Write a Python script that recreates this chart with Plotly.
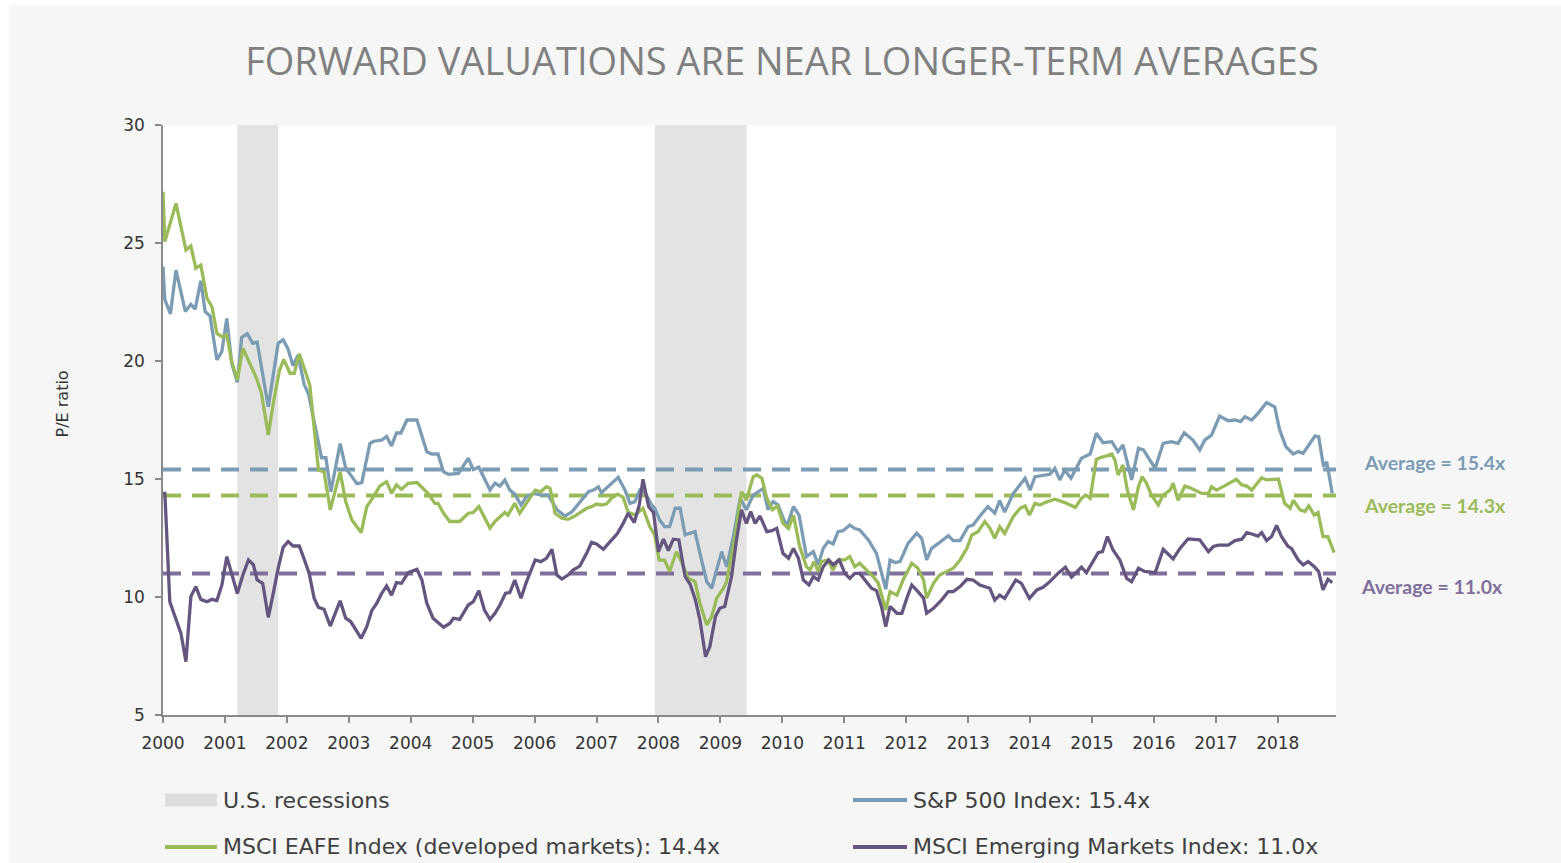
import plotly.graph_objects as go

# ---- data: forward P/E ratios (decimal year, value) ----
sp_years = [2000.00, 2000.03, 2000.12, 2000.21, 2000.36, 2000.45, 2000.52, 2000.61, 2000.68, 2000.76,
            2000.87, 2000.95, 2001.03, 2001.11, 2001.20, 2001.27, 2001.36, 2001.45, 2001.52, 2001.70,
            2001.86, 2001.94, 2002.02, 2002.10, 2002.18, 2002.28, 2002.35, 2002.56, 2002.63, 2002.71,
            2002.86, 2002.95, 2003.05, 2003.13, 2003.21, 2003.34, 2003.40, 2003.53, 2003.61, 2003.69,
            2003.77, 2003.84, 2003.94, 2004.10, 2004.26, 2004.34, 2004.44, 2004.53, 2004.61, 2004.77,
            2004.93, 2005.01, 2005.10, 2005.28, 2005.36, 2005.44, 2005.52, 2005.60, 2005.68, 2005.78,
            2005.87, 2005.98, 2006.11, 2006.22, 2006.36, 2006.49, 2006.60, 2006.76, 2006.87, 2006.95,
            2007.03, 2007.08, 2007.24, 2007.35, 2007.46, 2007.54, 2007.62, 2007.70, 2007.79, 2007.89,
            2007.94, 2008.02, 2008.10, 2008.18, 2008.27, 2008.35, 2008.43, 2008.51, 2008.59, 2008.67,
            2008.78, 2008.86, 2009.02, 2009.10, 2009.21, 2009.32, 2009.42, 2009.53, 2009.64, 2009.69,
            2009.77, 2009.85, 2009.93, 2010.07, 2010.18, 2010.27, 2010.39, 2010.50, 2010.58, 2010.66,
            2010.74, 2010.82, 2010.90, 2010.98, 2011.09, 2011.17, 2011.25, 2011.39, 2011.52, 2011.60,
            2011.67, 2011.74, 2011.82, 2011.90, 2012.03, 2012.17, 2012.25, 2012.33, 2012.41, 2012.52,
            2012.60, 2012.68, 2012.76, 2012.87, 2013.00, 2013.08, 2013.19, 2013.32, 2013.43, 2013.51,
            2013.59, 2013.73, 2013.92, 2014.00, 2014.08, 2014.19, 2014.32, 2014.40, 2014.48, 2014.56,
            2014.66, 2014.83, 2014.97, 2015.07, 2015.18, 2015.32, 2015.42, 2015.50, 2015.64, 2015.75,
            2015.83, 2016.02, 2016.15, 2016.28, 2016.39, 2016.49, 2016.63, 2016.74, 2016.82, 2016.93,
            2017.06, 2017.20, 2017.31, 2017.40, 2017.47, 2017.58, 2017.68, 2017.82, 2017.95, 2018.03,
            2018.13, 2018.25, 2018.33, 2018.41, 2018.60, 2018.66, 2018.74, 2018.79, 2018.88]
sp_pe = [24.0, 22.6, 22.0, 23.85, 22.1, 22.4, 22.2, 23.4, 22.1, 21.9,
         20.05, 20.4, 21.8, 19.9, 19.1, 21.0, 21.15, 20.75, 20.8, 18.06,
         20.75, 20.9, 20.5, 19.8, 20.25, 19.0, 18.6, 15.9, 15.9, 14.46,
         16.5, 15.46, 15.1, 14.8, 14.85, 16.5, 16.6, 16.65, 16.8, 16.4,
         16.95, 16.95, 17.5, 17.5, 16.15, 16.06, 16.06, 15.3, 15.2, 15.24,
         15.88, 15.4, 15.5, 14.53, 14.82, 14.7, 14.96, 14.53, 14.36, 13.9,
         14.25, 14.39, 14.32, 14.32, 13.7, 13.43, 13.6, 14.1, 14.46, 14.53,
         14.67, 14.42, 14.82, 15.07, 14.53, 13.97, 14.04, 14.53, 14.4, 13.9,
         13.76, 13.26, 12.98, 12.98, 13.76, 13.76, 12.63, 12.7, 12.77, 11.85,
         10.65, 10.37, 11.92, 11.28, 12.56, 14.18, 13.7, 14.32, 14.53, 14.6,
         13.7, 14.04, 13.9, 12.98, 13.83, 13.47, 11.71, 11.92, 11.36, 12.06,
         12.35, 12.25, 12.77, 12.81, 13.05, 12.9, 12.84, 12.42, 11.85, 11.0,
         10.33, 11.57, 11.46, 11.5, 12.27, 12.7, 12.49, 11.57, 12.06, 12.27,
         12.42, 12.6, 12.39, 12.39, 12.98, 13.05, 13.43, 13.83, 13.55, 14.08,
         13.6, 14.39, 15.03, 14.53, 15.1, 15.14, 15.2, 15.45, 14.96, 15.38,
         15.03, 15.88, 16.06, 16.94, 16.54, 16.58, 16.16, 16.44, 14.96, 16.3,
         16.23, 15.45, 16.51, 16.58, 16.51, 16.96, 16.65, 16.23, 16.65, 16.86,
         17.67, 17.47, 17.5, 17.43, 17.64, 17.5, 17.78, 18.24, 18.06, 17.08,
         16.37, 16.06, 16.16, 16.09, 16.82, 16.79, 15.52, 15.73, 14.39]

eafe_years = [2000.00, 2000.03, 2000.21, 2000.37, 2000.45, 2000.53, 2000.61, 2000.71, 2000.79, 2000.87,
              2000.95, 2001.03, 2001.11, 2001.20, 2001.29, 2001.40, 2001.51, 2001.59, 2001.70, 2001.78,
              2001.88, 2001.95, 2002.05, 2002.12, 2002.20, 2002.28, 2002.37, 2002.51, 2002.60, 2002.70,
              2002.86, 2002.95, 2003.05, 2003.20, 2003.29, 2003.40, 2003.50, 2003.61, 2003.69, 2003.77,
              2003.85, 2003.96, 2004.10, 2004.28, 2004.39, 2004.44, 2004.53, 2004.63, 2004.79, 2004.93,
              2005.01, 2005.10, 2005.28, 2005.36, 2005.44, 2005.52, 2005.57, 2005.68, 2005.76, 2005.87,
              2006.01, 2006.10, 2006.19, 2006.25, 2006.33, 2006.44, 2006.54, 2006.65, 2006.76, 2006.84,
              2006.92, 2007.00, 2007.08, 2007.16, 2007.24, 2007.34, 2007.43, 2007.51, 2007.62, 2007.75,
              2007.86, 2007.94, 2008.01, 2008.10, 2008.18, 2008.29, 2008.37, 2008.48, 2008.59, 2008.67,
              2008.78, 2008.86, 2008.94, 2009.05, 2009.10, 2009.24, 2009.34, 2009.42, 2009.53, 2009.59,
              2009.67, 2009.75, 2009.84, 2009.92, 2010.01, 2010.10, 2010.18, 2010.28, 2010.39, 2010.45,
              2010.51, 2010.58, 2010.63, 2010.73, 2010.82, 2010.90, 2011.01, 2011.09, 2011.17, 2011.25,
              2011.36, 2011.47, 2011.55, 2011.62, 2011.67, 2011.74, 2011.85, 2011.95, 2012.09, 2012.19,
              2012.28, 2012.33, 2012.44, 2012.54, 2012.65, 2012.76, 2012.87, 2012.98, 2013.06, 2013.16,
              2013.27, 2013.35, 2013.43, 2013.51, 2013.59, 2013.73, 2013.84, 2013.92, 2013.99, 2014.08,
              2014.16, 2014.24, 2014.40, 2014.56, 2014.73, 2014.83, 2014.90, 2014.97, 2015.07, 2015.15,
              2015.24, 2015.32, 2015.37, 2015.42, 2015.50, 2015.57, 2015.67, 2015.75, 2015.81, 2015.88,
              2015.96, 2016.07, 2016.15, 2016.26, 2016.31, 2016.39, 2016.50, 2016.61, 2016.77, 2016.88,
              2016.93, 2017.01, 2017.17, 2017.33, 2017.42, 2017.50, 2017.58, 2017.74, 2017.82, 2017.95,
              2018.01, 2018.11, 2018.20, 2018.25, 2018.36, 2018.44, 2018.50, 2018.59, 2018.65, 2018.73,
              2018.81, 2018.91]
eafe_pe = [27.17, 25.06, 26.68, 24.7, 24.87, 23.93, 24.07, 22.66, 22.3, 21.17,
           21.03, 21.1, 19.97, 19.2, 20.54, 19.9, 19.27, 18.63, 16.86, 18.2,
           19.6, 20.07, 19.48, 19.48, 20.3, 19.7, 18.98, 15.38, 15.3, 13.69,
           15.3, 14.04, 13.26, 12.73, 13.83, 14.25, 14.7, 14.89, 14.39, 14.75,
           14.56, 14.82, 14.85, 14.39, 13.97, 13.97, 13.55, 13.2, 13.2, 13.55,
           13.58, 13.83, 12.92, 13.2, 13.41, 13.58, 13.47, 13.97, 13.55, 13.97,
           14.53, 14.46, 14.67, 14.6, 13.55, 13.34, 13.29, 13.43, 13.6, 13.76,
           13.83, 13.94, 13.9, 13.94, 14.18, 14.36, 14.22, 13.6, 13.47, 13.76,
           12.98, 12.63, 11.57, 11.55, 11.08, 11.92, 11.5, 10.8, 10.65, 9.73,
           8.81, 9.17, 9.95, 10.37, 10.65, 12.63, 14.46, 14.1, 15.1, 15.17,
           15.03, 14.18, 13.7, 13.86, 13.12, 12.91, 13.47, 12.14, 11.28, 11.14,
           11.5, 11.08, 11.5, 11.57, 11.14, 11.57, 11.57, 11.71, 11.28, 11.43,
           11.14, 10.86, 10.58, 9.87, 9.45, 10.23, 10.08, 10.72, 11.43, 11.22,
           10.72, 9.95, 10.58, 10.93, 11.08, 11.22, 11.57, 12.06, 12.63, 12.77,
           13.2, 12.92, 12.49, 12.98, 12.7, 13.41, 13.76, 13.86, 13.47, 13.97,
           13.9, 14.0, 14.14, 14.0, 13.8, 14.18, 14.32, 14.18, 15.83, 15.92,
           15.98, 16.06, 15.81, 15.17, 15.59, 14.53, 13.69, 14.67, 15.1, 14.82,
           14.32, 13.9, 14.32, 14.53, 14.82, 14.1, 14.7, 14.6, 14.39, 14.39,
           14.67, 14.53, 14.75, 14.99, 14.75, 14.7, 14.53, 15.05, 14.96, 15.0,
           15.0, 13.97, 13.76, 14.1, 13.69, 13.62, 13.86, 13.47, 13.58, 12.56,
           12.56, 11.88]

em_years = [2000.00, 2000.03, 2000.11, 2000.19, 2000.29, 2000.37, 2000.45, 2000.53, 2000.61, 2000.71,
            2000.79, 2000.87, 2000.95, 2001.03, 2001.13, 2001.20, 2001.29, 2001.38, 2001.46, 2001.52,
            2001.61, 2001.70, 2001.78, 2001.86, 2001.94, 2002.02, 2002.10, 2002.20, 2002.28, 2002.36,
            2002.44, 2002.51, 2002.60, 2002.70, 2002.86, 2002.95, 2003.03, 2003.20, 2003.29, 2003.37,
            2003.45, 2003.53, 2003.61, 2003.69, 2003.77, 2003.85, 2003.96, 2004.10, 2004.18, 2004.26,
            2004.36, 2004.53, 2004.63, 2004.69, 2004.79, 2004.93, 2005.01, 2005.10, 2005.19, 2005.28,
            2005.36, 2005.44, 2005.53, 2005.60, 2005.68, 2005.78, 2005.87, 2006.01, 2006.10, 2006.19,
            2006.28, 2006.36, 2006.44, 2006.54, 2006.62, 2006.73, 2006.84, 2006.92, 2007.00, 2007.11,
            2007.22, 2007.34, 2007.43, 2007.51, 2007.61, 2007.69, 2007.75, 2007.84, 2007.92, 2008.00,
            2008.08, 2008.16, 2008.24, 2008.33, 2008.43, 2008.51, 2008.59, 2008.67, 2008.76, 2008.83,
            2008.92, 2008.99, 2009.07, 2009.18, 2009.26, 2009.34, 2009.42, 2009.49, 2009.56, 2009.64,
            2009.75, 2009.83, 2009.91, 2010.01, 2010.10, 2010.18, 2010.26, 2010.34, 2010.43, 2010.50,
            2010.58, 2010.66, 2010.75, 2010.82, 2010.92, 2011.01, 2011.09, 2011.17, 2011.25, 2011.36,
            2011.44, 2011.52, 2011.60, 2011.67, 2011.74, 2011.85, 2011.93, 2012.01, 2012.09, 2012.19,
            2012.28, 2012.33, 2012.44, 2012.57, 2012.68, 2012.76, 2012.87, 2012.98, 2013.08, 2013.19,
            2013.35, 2013.43, 2013.51, 2013.59, 2013.77, 2013.86, 2013.99, 2014.11, 2014.21, 2014.32,
            2014.45, 2014.57, 2014.67, 2014.83, 2014.91, 2015.10, 2015.17, 2015.25, 2015.34, 2015.45,
            2015.56, 2015.64, 2015.75, 2015.85, 2016.02, 2016.15, 2016.31, 2016.42, 2016.55, 2016.74,
            2016.88, 2016.96, 2017.04, 2017.20, 2017.31, 2017.42, 2017.50, 2017.58, 2017.68, 2017.74,
            2017.82, 2017.90, 2017.98, 2018.06, 2018.16, 2018.22, 2018.33, 2018.41, 2018.49, 2018.59,
            2018.66, 2018.73, 2018.81, 2018.88]
em_pe = [14.39, 14.39, 9.8, 9.17, 8.46, 7.26, 10.02, 10.44, 9.9, 9.8,
         9.9, 9.85, 10.5, 11.71, 10.86, 10.15, 10.93, 11.57, 11.36, 10.72,
         10.58, 9.14, 10.15, 11.22, 12.11, 12.35, 12.16, 12.16, 11.6, 11.0,
         9.95, 9.56, 9.48, 8.77, 9.84, 9.1, 8.96, 8.25, 8.74, 9.42,
         9.73, 10.15, 10.47, 10.08, 10.61, 10.58, 11.03, 11.17, 10.72, 9.73,
         9.1, 8.72, 8.88, 9.1, 9.05, 9.66, 9.8, 10.27, 9.45, 9.05,
         9.31, 9.66, 10.16, 10.19, 10.72, 9.95, 10.65, 11.57, 11.5, 11.64,
         12.02, 10.93, 10.76, 10.93, 11.14, 11.31, 11.85, 12.32, 12.25, 12.02,
         12.35, 12.7, 13.12, 13.55, 13.15, 13.9, 14.99, 13.83, 13.58, 11.92,
         12.45, 11.97, 12.45, 12.42, 10.86, 10.55, 9.94, 9.03, 7.47, 7.9,
         9.17, 9.52, 9.6, 10.86, 12.42, 13.69, 13.12, 13.62, 13.12, 13.43,
         12.77, 12.81, 12.91, 11.85, 11.64, 12.06, 11.64, 10.72, 10.51, 10.86,
         10.72, 11.28, 11.57, 11.36, 11.57, 11.0, 10.79, 11.0, 11.0, 10.65,
         10.37, 10.27, 9.6, 8.74, 9.6, 9.31, 9.31, 9.95, 10.51, 10.23,
         9.95, 9.31, 9.52, 9.87, 10.23, 10.23, 10.44, 10.75, 10.72, 10.51,
         10.37, 9.87, 10.08, 9.94, 10.72, 10.58, 9.94, 10.3, 10.41, 10.65,
         11.0, 11.26, 10.84, 11.26, 11.03, 11.88, 11.92, 12.56, 11.99, 11.57,
         10.79, 10.65, 11.22, 11.08, 11.03, 12.02, 11.61, 12.06, 12.46, 12.42,
         11.92, 12.14, 12.2, 12.2, 12.39, 12.45, 12.73, 12.67, 12.58, 12.73,
         12.39, 12.56, 13.03, 12.56, 12.16, 12.06, 11.57, 11.36, 11.5, 11.28,
         11.08, 10.3, 10.75, 10.61]

# long-run averages
sp_avg = 15.4
eafe_avg = 14.3
em_avg = 11.0

# U.S. recessions (start, end)
recessions = [(2001.20, 2001.86), (2007.94, 2009.42)]

series_names = ["S&P 500 Index: 15.4x",
                "MSCI EAFE Index (developed markets): 14.4x",
                "MSCI Emerging Markets Index: 11.0x"]
avg_labels = ["Average = 15.4x", "Average = 14.3x", "Average = 11.0x"]
year_ticks = list(range(2000, 2019))

X_START, X_END = 2000.0, 2018.94

# ---- styling ----
C_SP = "#7b9cb3"
C_EAFE = "#9bbb59"
C_EM = "#65567f"
C_EM_AVG = "#7f6f9b"
C_REC = "#e3e3e3"
PANEL = "#f6f6f6"
TEXT = "#404040"
AXIS = "#8a8a8a"
TICK_FONT = dict(family="Verdana, DejaVu Sans, sans-serif", size=17, color="#333333")

fig = go.Figure()

# dashed average lines
for avg, col in [(sp_avg, C_SP), (eafe_avg, C_EAFE), (em_avg, C_EM_AVG)]:
    fig.add_trace(go.Scatter(x=[X_START, X_END], y=[avg, avg], mode="lines",
                             line=dict(color=col, width=4, dash="18px,11px"),
                             hoverinfo="skip", showlegend=False))

# P/E series
for xs, ys, col, name in [(sp_years, sp_pe, C_SP, series_names[0]),
                          (eafe_years, eafe_pe, C_EAFE, series_names[1]),
                          (em_years, em_pe, C_EM, series_names[2])]:
    fig.add_trace(go.Scatter(x=xs, y=ys, mode="lines", name=name,
                             line=dict(color=col, width=3.3), showlegend=False))

shapes = []
# white margin strips around the grey panel
shapes.append(dict(type="rect", xref="paper", yref="paper", x0=-0.2, x1=-0.1313,
                   y0=-0.3, y1=1.3, fillcolor="white", line=dict(width=0), layer="below"))
shapes.append(dict(type="rect", xref="paper", yref="paper", x0=-0.2, x1=1.3,
                   y0=1.2034, y1=1.3, fillcolor="white", line=dict(width=0), layer="below"))
# recession bands
for a, b in recessions:
    shapes.append(dict(type="rect", xref="x", yref="paper", x0=a, x1=b, y0=0, y1=1,
                       fillcolor=C_REC, line=dict(width=0), layer="below"))

# custom legend (two rows, two columns)
row1, row2 = -0.1441, -0.2237
col1_sw, col2_sw = (0.0017, 0.0460), (0.5882, 0.6343)
shapes.append(dict(type="rect", xref="paper", yref="paper", x0=col1_sw[0], x1=col1_sw[1],
                   y0=row1 - 0.011, y1=row1 + 0.011, fillcolor="#dddddd", line=dict(width=0)))
for (x0, x1), yy, col in [(col2_sw, row1, C_SP), (col1_sw, row2, C_EAFE), (col2_sw, row2, C_EM)]:
    shapes.append(dict(type="line", xref="paper", yref="paper", x0=x0, x1=x1, y0=yy, y1=yy,
                       line=dict(color=col, width=4)))

annotations = []
LEG_FONT = dict(family="DejaVu Sans, Verdana, sans-serif", size=22, color=TEXT)
for txt, xx, yy in [("U.S. recessions", 0.0494, row1), (series_names[0], 0.6377, row1),
                    (series_names[1], 0.0494, row2), (series_names[2], 0.6377, row2)]:
    annotations.append(dict(text=txt, x=xx, y=yy, xref="paper", yref="paper",
                            xanchor="left", yanchor="middle", showarrow=False, font=LEG_FONT))

# average value labels on the right
for txt, xx, yy, col in [(avg_labels[0], 1.0222, 0.4288, C_SP),
                         (avg_labels[1], 1.0222, 0.3559, C_EAFE),
                         (avg_labels[2], 1.0196, 0.2186, C_EM_AVG)]:
    annotations.append(dict(text="<b>" + txt + "</b>", x=xx, y=yy, xref="paper", yref="paper",
                            xanchor="left", yanchor="middle", showarrow=False,
                            font=dict(family="Lato, Open Sans, sans-serif", size=19.5, color=col)))

# y-axis title
annotations.append(dict(text="P/E ratio", x=-0.0861, y=0.5263, xref="paper", yref="paper",
                        textangle=-90, showarrow=False, xanchor="center", yanchor="middle",
                        font=dict(family="Verdana, DejaVu Sans, sans-serif", size=16, color="#333333")))

fig.update_layout(
    width=1561, height=863,
    margin=dict(l=163, r=225, t=125, b=148),
    paper_bgcolor=PANEL, plot_bgcolor="white",
    title=dict(text="FORWARD VALUATIONS ARE NEAR LONGER-TERM AVERAGES",
               x=0.5277, xref="paper", xanchor="center", y=1 - 62 / 863, yanchor="middle",
               font=dict(family="Open Sans, sans-serif", size=38, color="#808080")),
    shapes=shapes, annotations=annotations,
    showlegend=False,
    xaxis=dict(range=[X_START, X_END], tickmode="array", tickvals=year_ticks,
               ticktext=[str(y) for y in year_ticks], showgrid=False, zeroline=False,
               showline=True, linecolor=AXIS, linewidth=1.5,
               ticks="outside", ticklen=6, tickcolor=AXIS, tickwidth=1.5,
               ticklabelstandoff=6, tickfont=TICK_FONT),
    yaxis=dict(range=[5, 30], tickvals=[5, 10, 15, 20, 25, 30], showgrid=False, zeroline=False,
               showline=True, linecolor=AXIS, linewidth=1.5,
               ticks="outside", ticklen=6, tickcolor=AXIS, tickwidth=1.5,
               ticklabelstandoff=7, tickfont=TICK_FONT),
)

fig.write_html("out.html")
